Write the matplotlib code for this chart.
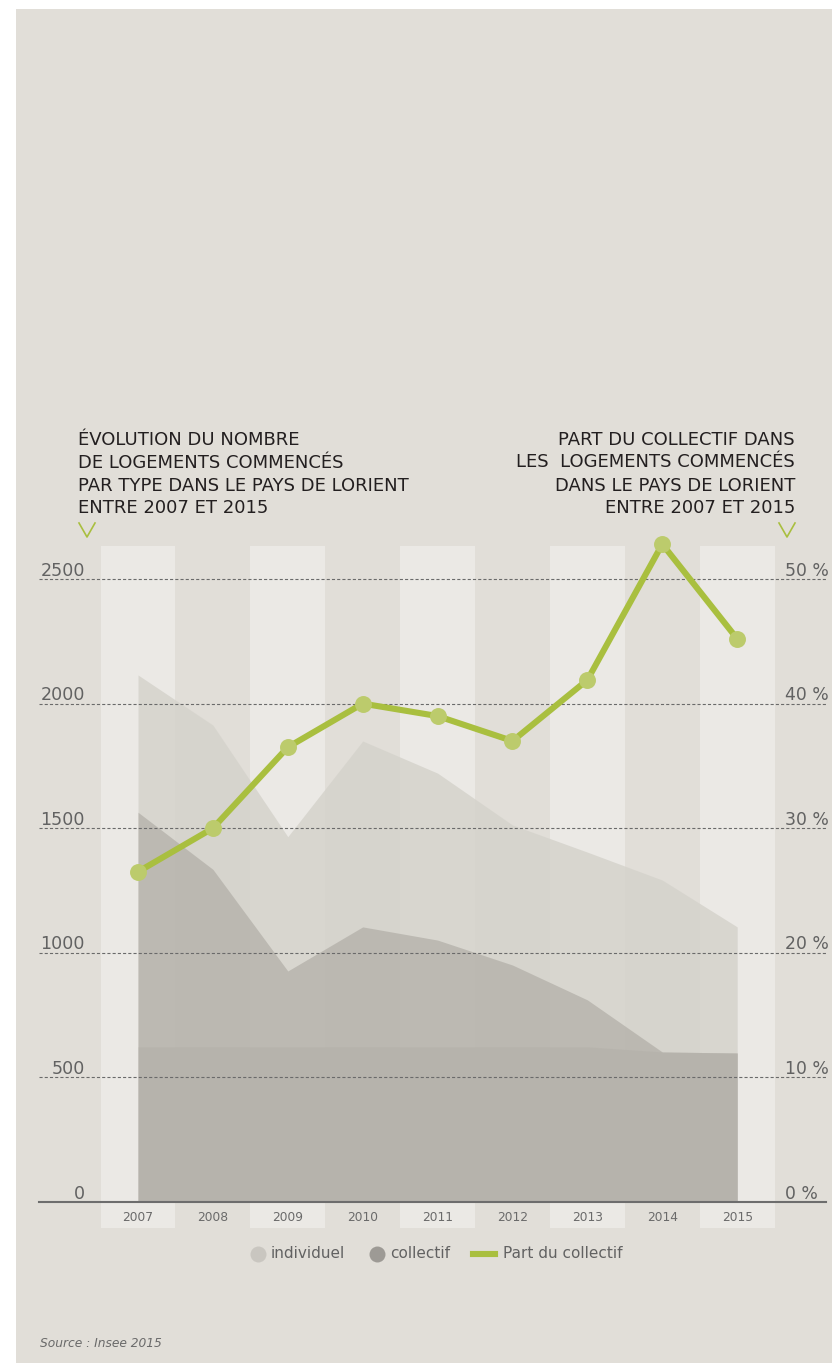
import matplotlib
matplotlib.use("Agg")
import matplotlib.pyplot as plt
from matplotlib.patches import Rectangle
from matplotlib.lines import Line2D

years = ["2007", "2008", "2009", "2010", "2011", "2012", "2013", "2014", "2015"]
individuel = [2115, 1914, 1466, 1850, 1721, 1513, 1404, 1292, 1104]
collectif = [1564, 1335, 927, 1104, 1051, 951, 811, 602, 598]
socle = [623, 623, 623, 623, 623, 623, 623, 602, 598]
part_collectif = [26.5, 30.0, 36.5, 40.0, 39.0, 37.0, 41.9, 52.8, 45.2]
yticks_left = [0, 500, 1000, 1500, 2000, 2500]
yticks_right = [0, 10, 20, 30, 40, 50]
title_left = ["ÉVOLUTION DU NOMBRE", "DE LOGEMENTS COMMENCÉS",
              "PAR TYPE DANS LE PAYS DE LORIENT", "ENTRE 2007 ET 2015"]
title_right = ["PART DU COLLECTIF DANS", "LES  LOGEMENTS COMMENCÉS",
               "DANS LE PAYS DE LORIENT", "ENTRE 2007 ET 2015"]
legend_labels = ["individuel", "collectif", "Part du collectif"]
source = "Source : Insee 2015"

W, H = 832, 1363
DPI = 100
BG = "#e1ded8"
BAND = "#ebe9e5"
C_IND = "#d5d3cc"
C_COL = "#b7b4ad"
C_SOC = "#b2afa8"
GREEN = "#a9bf3f"
GREEN_MK = "#bccb6c"
TXT = "#231f20"
GRAY = "#626262"

plt.rcParams["font.family"] = ["DejaVu Sans"]

fig = plt.figure(figsize=(W / DPI, H / DPI), dpi=DPI)
fig.patch.set_facecolor("white")
fig.add_artist(Rectangle((16 / W, 0), 1 - 16 / W, 1 - 9 / H, transform=fig.transFigure,
                         facecolor=BG, edgecolor="none", zorder=-10))

def fx(px):
    return px / W

def fy(py):
    return 1 - py / H

# axes geometry (pixels)
L, R, B, T = 39, 826, 1202, 544
x0px, dxpx = 138, 74.9
ppu = (1202 - 579) / 2500.0

ax = fig.add_axes([fx(L), fy(B), (R - L) / W, (B - T) / H])
ax.set_facecolor("none")
xmin = -(x0px - L) / dxpx
xmax = (len(years) - 1) + (R - (x0px + dxpx * (len(years) - 1))) / dxpx
ymax = (B - T) / ppu
ax.set_xlim(xmin, xmax)
ax.set_ylim(0, ymax)
ax.axis("off")

xs = list(range(len(years)))

# alternating light bands
band_bottom = -(1228 - B) / ppu
band_top = (B - 546) / ppu
for i in xs:
    if i % 2 == 0:
        ax.add_patch(Rectangle((i - 0.5, band_bottom), 1, band_top - band_bottom,
                               facecolor=BAND, edgecolor="none", zorder=0, clip_on=False))

# areas
ax.fill_between(xs, 0, individuel, color=C_IND, alpha=0.85, lw=0, zorder=1)
ax.fill_between(xs, 0, collectif, color=C_COL, alpha=0.85, lw=0, zorder=2)
ax.fill_between(xs, 0, socle, color=C_SOC, alpha=0.5, lw=0, zorder=3)

# gridlines
for v in yticks_left[1:]:
    ax.axhline(v, color="#6a6a6a", lw=0.8, ls=(0, (2.8, 1.9)), zorder=4)
ax.axhline(0, color="#6d6d6d", lw=1.5, zorder=5, clip_on=False)

# left tick labels
for v in yticks_left:
    ax.annotate(f"{v}", xy=((85 - L) / (R - L), v), xycoords=("axes fraction", "data"),
                xytext=(0, 2.4), textcoords="offset points", ha="right", va="baseline",
                fontsize=12.6, color=GRAY)
# right tick labels
for v in yticks_right:
    ax.annotate(f"{v} %", xy=((785 - L) / (R - L), v * 50), xycoords=("axes fraction", "data"),
                xytext=(0, 2.4), textcoords="offset points", ha="left", va="baseline",
                fontsize=12.4, color=GRAY)
# x labels
for i, y in zip(xs, years):
    ax.annotate(y, xy=(i, 0), xytext=(0, -13.7), textcoords="offset points",
                ha="center", va="baseline", fontsize=8.8, color="#6a6a6a")

# share line (right axis scale: 1% = 50 units)
ax2 = ax.twinx()
ax2.set_ylim(0, ymax / 50.0)
ax2.set_xlim(xmin, xmax)
ax2.axis("off")
ax2.plot(xs, part_collectif, color=GREEN, lw=4.4, zorder=6, clip_on=False,
         solid_capstyle="round")
ax2.plot(xs, part_collectif, ls="none", marker="o", ms=12.2, mfc=GREEN_MK, mec="none",
         zorder=7, clip_on=False)

# titles
baselines_l = [445, 468, 491, 513]
for line, by in zip(title_left, baselines_l):
    fig.text(fx(78), fy(by), line, ha="left", va="baseline", fontsize=13, color=TXT)
baselines_r = [445, 467, 491, 513]
for line, by in zip(title_right, baselines_r):
    fig.text(fx(795), fy(by), line, ha="right", va="baseline", fontsize=13, color=TXT)

# green chevrons
for cx in (87, 787):
    fig.add_artist(Line2D([fx(cx - 8), fx(cx), fx(cx + 8)], [fy(523), fy(537), fy(523)],
                          transform=fig.transFigure, color=GREEN, lw=1.2))

# legend
ly = fy(1254)
fig.add_artist(Line2D([fx(258)], [ly], transform=fig.transFigure, marker="o", ms=11.5,
                      mfc="#c9c6c0", mec="none", ls="none"))
fig.text(fx(271), ly, legend_labels[0], ha="left", va="center", fontsize=11, color=GRAY)
fig.add_artist(Line2D([fx(377)], [ly], transform=fig.transFigure, marker="o", ms=11.5,
                      mfc="#9d9a95", mec="none", ls="none"))
fig.text(fx(390), ly, legend_labels[1], ha="left", va="center", fontsize=11, color=GRAY)
fig.add_artist(Line2D([fx(473), fx(495)], [ly, ly], transform=fig.transFigure,
                      color=GREEN, lw=4.4))
fig.text(fx(503), ly, legend_labels[2], ha="left", va="center", fontsize=11, color=GRAY)

# source
fig.text(fx(40), fy(1347), source, ha="left", va="baseline", fontsize=8.8,
         style="italic", color="#6a6a6a")

fig.savefig("out.png", dpi=DPI, facecolor=fig.get_facecolor())
